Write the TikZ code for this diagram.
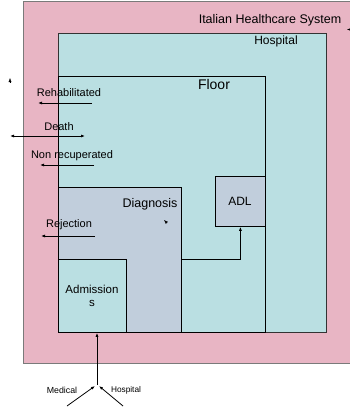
\documentclass[tikz,border=0pt]{standalone}
\usepackage{fontspec}
\setmainfont{Liberation Sans}
\usetikzlibrary{arrows.meta}
\definecolor{pinkbg}{HTML}{E8B5C4}
\definecolor{tealbg}{HTML}{BADFE2}
\definecolor{bluebg}{HTML}{C1CEDC}
\definecolor{frame}{HTML}{7A7A7A}
\begin{document}
\begin{tikzpicture}[x=1pt,y=-1pt,
  box/.style={rectangle,anchor=north west,inner sep=0pt,draw=black,line width=0.8pt},
  lbl/.style={inner sep=0pt,font=\fontsize{11}{13}\selectfont},
  arr/.style={line width=0.8pt,-{Latex[length=4pt,width=3pt]}},
  >={Latex[length=4pt,width=3pt]}]
\useasboundingbox (0,0) rectangle (350,413);
\clip (0,0) rectangle (350,413);
% outer system
\node[box,fill=pinkbg,draw=frame,line width=1pt,minimum width=340pt,minimum height=362pt] (sys) at (23,0.5) {};
\node[box,fill=tealbg,draw=black!80,minimum width=268pt,minimum height=299pt] (hosp) at (58,33) {};
\node[box,fill=tealbg,minimum width=207pt,minimum height=256pt] (floor) at (58,76) {};
\node[box,fill=bluebg,minimum width=123pt,minimum height=145pt] (diag) at (58,187) {};
\node[box,fill=tealbg,minimum width=68pt,minimum height=73pt] (adm) at (58,259) {};
\node[box,fill=bluebg,minimum width=50pt,minimum height=50pt] (adl) at (215,176) {};
% titles
\node[lbl,font=\fontsize{12.5}{14}\selectfont] (tsys) at (270,20) {Italian Healthcare System};
\node[lbl,font=\fontsize{12}{14}\selectfont] (thosp) at (276,41) {Hospital};
\node[lbl,font=\fontsize{14}{16}\selectfont] (tfloor) at (214,84) {Floor};
\node[lbl,font=\fontsize{12.5}{14}\selectfont] (tdiag) at (150,204) {Diagnosis};
\node[lbl,font=\fontsize{12}{14}\selectfont] (tadl) at (240,201) {ADL};
\node[lbl,align=center,font=\fontsize{11.5}{13}\selectfont] (tadm) at (92,296) {Admission\\s};
% outflows
\node[lbl] (trehab) at (69,93) {Rehabilitated};
\coordinate (r1) at (92,103); \coordinate (r2) at (38,103);
\draw[arr] (r1) -- (r2);
\node[lbl] (tdeath) at (59,127) {Death};
\coordinate (d1) at (10,136); \coordinate (d2) at (85,136);
\draw[line width=0.8pt,<->] (d1) -- (d2);
\node[lbl] (tnon) at (72,156) {Non recuperated};
\coordinate (n1) at (94,165); \coordinate (n2) at (40,165);
\draw[arr] (n1) -- (n2);
\node[lbl] (trej) at (69,225) {Rejection};
\coordinate (j1) at (95,236); \coordinate (j2) at (41,236);
\draw[arr] (j1) -- (j2);
% diagnosis to ADL
\draw[arr] (diag.east |- 0,259) -| (adl.south);
% inflow
\coordinate (in) at (97,385);
\draw[arr] (in) -- (adm.south -| in);
\coordinate (m0) at (67,406); \coordinate (m1) at (95,386);
\coordinate (h0) at (123,406); \coordinate (h1) at (99,386);
\draw[arr] (m0) -- (m1);
\draw[arr] (h0) -- (h1);
\node[lbl,font=\fontsize{8.8}{10}\selectfont] (tmed) at (62,390) {Medical};
\node[lbl,font=\fontsize{8.3}{10}\selectfont] (thos2) at (126,390) {Hospital};
% stray arrowheads
\coordinate (s1a) at (10,82); \coordinate (s1b) at (10,78);
\draw[arr,line width=0.4pt] (s1a) -- (s1b);
\coordinate (s2a) at (351,29.5); \coordinate (s2b) at (347,29.5);
\draw[arr,line width=0.4pt] (s2a) -- (s2b);
\coordinate (s3a) at (167,223); \coordinate (s3b) at (164,220);
\draw[arr,line width=0.4pt] (s3a) -- (s3b);
\end{tikzpicture}
\end{document}
